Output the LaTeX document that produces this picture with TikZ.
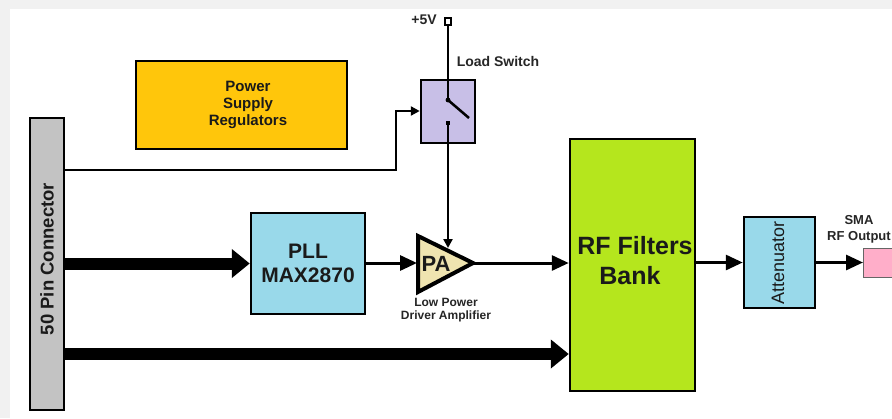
\documentclass[tikz,border=0pt]{standalone}
\usepackage{fontspec}
\setmainfont{Liberation Sans}
\usetikzlibrary{arrows.meta,calc}
\definecolor{cbg}{HTML}{F1F1F1}
\definecolor{cgray}{HTML}{C3C3C3}
\definecolor{cpsu}{HTML}{FFC60B}
\definecolor{clil}{HTML}{C8BFE7}
\definecolor{crf}{HTML}{B5E61D}
\definecolor{cblue}{HTML}{99D9EA}
\definecolor{cpink}{HTML}{FFAEC9}
\definecolor{ctan}{HTML}{EFE4B0}
\definecolor{ctext}{HTML}{1A1A1A}
\tikzset{
  boxnode/.style={draw=black,line width=2.5pt,inner sep=0pt,align=center,font=\bfseries,text=ctext},
  thin arrow/.style={draw=black,line width=3pt,-{Triangle[length=17pt,width=15pt]}},
  small arrow/.style={draw=black,line width=2.4pt,-{Triangle[length=9pt,width=9pt]}},
  thick arrow/.style={draw=black,line width=12pt,-{Triangle[length=18pt,width=28pt]}},
  wire/.style={draw=black,line width=2.5pt},
  caption/.style={inner sep=0pt,align=center,text=black!85}
}
\begin{document}
\begin{tikzpicture}[x=1pt,y=-1pt]
\useasboundingbox (0,0) rectangle (892,418);
\fill[cbg] (0,0) rectangle (892,418);
\fill[white] (10,9) rectangle (892,418);
\begin{scope}
\clip (0,0) rectangle (892,418);
% boxes
\node[boxnode,fill=cgray,minimum width=34pt,minimum height=292pt] (conn) at (47,264) {};
\node[caption,text=ctext,rotate=90,font=\bfseries\fontsize{18.5}{20}\selectfont] (connt) at (47,259) {50 Pin Connector};
\node[boxnode,fill=cpsu,minimum width=211pt,minimum height=88pt] (psu) at (241.5,105) {};
\node[caption,text=ctext,font=\bfseries\fontsize{15}{17}\selectfont] (psut) at (248,105) {Power\\Supply\\Regulators};
\node[boxnode,fill=clil,minimum width=54pt,minimum height=63pt] (sw) at (448,111.5) {};
\node[boxnode,fill=crf,minimum width=125pt,minimum height=252pt] (rf) at (632.5,265) {};
\node[caption,text=ctext,font=\bfseries\fontsize{25}{30}\selectfont] (rft) at (635,261) {RF Filters\\Bank\hspace*{10pt}};
\node[boxnode,fill=cblue,minimum width=114pt,minimum height=101pt,font=\bfseries\fontsize{21}{24}\selectfont] (pll) at (308,263.5)
  {PLL\\MAX2870};
\node[boxnode,fill=cblue,minimum width=71pt,minimum height=91pt] (att) at (779.5,262.5) {};
\node[caption,text=ctext,rotate=90,font=\fontsize{18}{20}\selectfont] (attt) at (778,263) {Attenuator};
\node[draw=black!60,line width=1pt,fill=cpink,minimum width=60pt,minimum height=29pt,inner sep=0pt,anchor=west] (out) at (863,262.5) {};
% PA triangle
\draw[black,line width=4pt,line join=miter,fill=ctan]
  (418,236) coordinate (pan) -- (473,263) coordinate (paout) -- (418,292) coordinate (pas) -- cycle;
\coordinate (pain) at (417,263);
\node[inner sep=0pt,text=ctext,font=\bfseries\fontsize{22}{24}\selectfont] (pa) at (436,264) {PA};
\coordinate (patop) at (448,248);
% switch internals
\coordinate (v5) at (448,21.5);
\node[draw=black,line width=2pt,fill=white,minimum size=6.5pt,inner sep=0pt] (vcc) at (v5) {};
\coordinate (swa) at (448,100);
\coordinate (swb) at (469,118);
\coordinate (swc) at (448,123);
\fill[black] (swa) circle (2.4pt);
\fill[black] ($(swc)+(-2.4,-2.4)$) rectangle ($(swc)+(2.4,2.4)$);
\draw[wire] (vcc) -- (swa);
\draw[wire] (swa) -- (swb);
\draw[small arrow] (swc) -- (patop);
% control line
\coordinate (cs) at (64,170);
\coordinate (cm) at (396,170);
\coordinate (ct) at (396,111);
\draw[small arrow] (conn.east |- cs) -- (cm) -- (ct) -- (sw.west |- ct);
% thick buses
\draw[thick arrow] (conn.east |- pll.west) -- (pll.west);
\coordinate (bus) at (64,354);
\draw[thick arrow] (bus) -- (rf.west |- bus);
% signal arrows
\draw[thin arrow] (pll.east |- pain) -- (pain);
\draw[thin arrow] (paout) -- (rf.west |- paout);
\draw[thin arrow] (rf.east |- att.west) -- (att.west);
\draw[thin arrow] (att.east |- out.west) -- (out.west);
% captions
\node[caption,font=\bfseries\fontsize{14}{16}\selectfont] (v5t) at (424,20) {+5V};
\node[caption,font=\bfseries\fontsize{14}{16}\selectfont] (ls) at (498,61) {Load Switch};
\node[caption,font=\bfseries\fontsize{12}{13}\selectfont] (lp) at (446,310.5) {Low Power\\Driver Amplifier};
\node[caption,font=\bfseries\fontsize{13}{16}\selectfont] (sma) at (859,229) {SMA\\RF Output};
\end{scope}
\end{tikzpicture}
\end{document}
